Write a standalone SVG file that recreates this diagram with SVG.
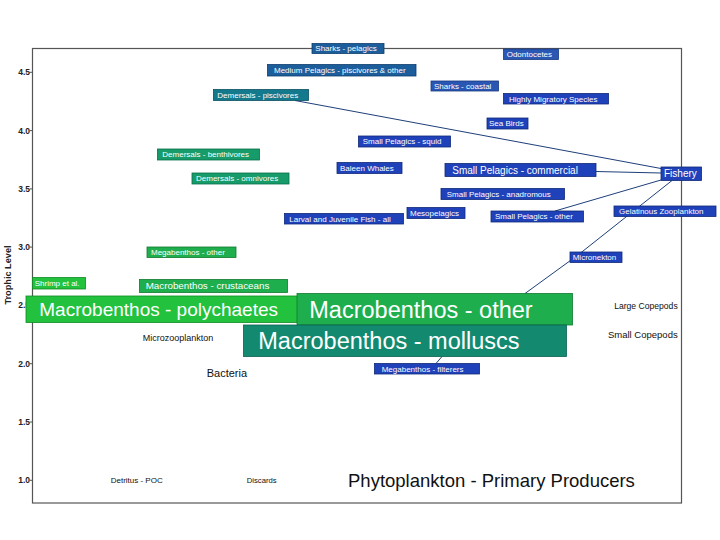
<svg xmlns="http://www.w3.org/2000/svg" width="720" height="540" viewBox="0 0 720 540">
<style>
text{font-family:"Liberation Sans",Arial,sans-serif}
.lbl{fill:#fff;font-size:8px}
.big{fill:#fff}
.plain{fill:#111}
.tick{font-size:8.5px;font-weight:bold;fill:#222;text-anchor:end}
.steel{fill:#1c5d9c;stroke:#0e3d6e;stroke-width:0.8}
.teal{fill:#137a8e;stroke:#0b5060;stroke-width:0.8}
.blue{fill:#1f41b9;stroke:#0f2878;stroke-width:0.8}
.blue2{fill:#2a56b4;stroke:#173a80;stroke-width:0.8}
.gteal{fill:#169c6a;stroke:#0c6e48;stroke-width:0.8}
.green{fill:#1eae4e;stroke:#0f7a30;stroke-width:0.8}
.bgreen{fill:#22c23e;stroke:#108a22;stroke-width:0.8}
.mteal{fill:#138a70;stroke:#0a6050;stroke-width:0.8}
.conn{stroke:#1e3f7a;stroke-width:1;fill:none}
</style>
<rect width="720" height="540" fill="#fff"/>
<g id="axes">
<rect x="32.5" y="48.5" width="649" height="454.5" fill="none" stroke="#555" stroke-width="1.2"/>
<g stroke="#555" stroke-width="1">
<line x1="30" y1="72.3" x2="32.5" y2="72.3"/>
<line x1="30" y1="130.6" x2="32.5" y2="130.6"/>
<line x1="30" y1="188.9" x2="32.5" y2="188.9"/>
<line x1="30" y1="247.1" x2="32.5" y2="247.1"/>
<line x1="30" y1="305.4" x2="32.5" y2="305.4"/>
<line x1="30" y1="363.7" x2="32.5" y2="363.7"/>
<line x1="30" y1="422" x2="32.5" y2="422"/>
<line x1="30" y1="480.3" x2="32.5" y2="480.3"/>
</g>
<text class="tick" x="30" y="75.3">4.5</text>
<text class="tick" x="30" y="133.6">4.0</text>
<text class="tick" x="30" y="191.9">3.5</text>
<text class="tick" x="30" y="250.1">3.0</text>
<text class="tick" x="30" y="308.4">2.5</text>
<text class="tick" x="30" y="366.7">2.0</text>
<text class="tick" x="30" y="425">1.5</text>
<text class="tick" x="30" y="483.3">1.0</text>
<text x="0" y="0" transform="translate(10.5,275) rotate(-90)" text-anchor="middle" font-size="9.2" font-weight="bold" fill="#222">Trophic Level</text>
</g>
<g id="connectors">
<line class="conn" x1="295" y1="100.5" x2="661" y2="168.5"/>
<line class="conn" x1="596" y1="171.5" x2="661" y2="173"/>
<line class="conn" x1="555" y1="211" x2="661" y2="180"/>
<polyline class="conn" points="672,180.5 578,255 525,293.5"/>
<line class="conn" x1="442" y1="356.5" x2="436" y2="363.5"/>
</g>
<g id="sharks-pelagics"><rect class="steel" x="312" y="43.5" width="72" height="10"/><text class="lbl" x="315.3" y="51.3">Sharks - pelagics</text></g>
<g id="odontocetes"><rect class="blue2" x="503.5" y="49" width="55" height="10.5"/><text class="lbl" x="506.7" y="57">Odontocetes</text></g>
<g id="medium-pelagics"><rect class="steel" x="267.5" y="64.5" width="148.5" height="11.5"/><text class="lbl" x="274" y="73">Medium Pelagics - piscivores &amp; other</text></g>
<g id="sharks-coastal"><rect class="blue2" x="431" y="81" width="67.5" height="10"/><text class="lbl" x="434" y="88.8">Sharks - coastal</text></g>
<g id="demersals-piscivores"><rect class="teal" x="213.5" y="89.5" width="95" height="11"/><text class="lbl" x="217.3" y="97.8">Demersals - piscivores</text></g>
<g id="highly-migratory-species"><rect class="blue" x="503.5" y="93.5" width="105" height="10.5"/><text class="lbl" x="509" y="101.5">Highly Migratory Species</text></g>
<g id="sea-birds"><rect class="blue" x="487" y="118" width="41" height="11"/><text class="lbl" x="489" y="126.3">Sea Birds</text></g>
<g id="small-pelagics-squid"><rect class="blue" x="358.5" y="136" width="92" height="11"/><text class="lbl" x="362.7" y="144.3">Small Pelagics - squid</text></g>
<g id="demersals-benthivores"><rect class="gteal" x="157.5" y="149" width="102" height="11"/><text class="lbl" x="162.3" y="157.3">Demersals - benthivores</text></g>
<g id="baleen-whales"><rect class="blue" x="337" y="162.5" width="65" height="11"/><text class="lbl" x="340" y="170.8">Baleen Whales</text></g>
<g id="small-pelagics-commercial"><rect class="blue" x="445" y="163.5" width="151" height="13"/><text class="big" font-size="10" x="452.3" y="173.5">Small Pelagics - commercial</text></g>
<g id="fishery"><rect class="blue" x="661" y="167" width="40.5" height="13.5"/><text class="big" font-size="10" x="664" y="177.3">Fishery</text></g>
<g id="demersals-omnivores"><rect class="gteal" x="192" y="173" width="97" height="11"/><text class="lbl" x="196" y="181.3">Demersals - omnivores</text></g>
<g id="small-pelagics-anadromous"><rect class="blue" x="441" y="188.5" width="123.5" height="11"/><text class="lbl" x="446.7" y="196.8">Small Pelagics - anadromous</text></g>
<g id="larval-juvenile-fish"><rect class="blue" x="284.5" y="213.5" width="119" height="10.5"/><text class="lbl" x="289.3" y="221.5">Larval and Juvenile Fish - all</text></g>
<g id="mesopelagics"><rect class="blue" x="407" y="207.5" width="58" height="11"/><text class="lbl" x="410" y="215.8">Mesopelagics</text></g>
<g id="small-pelagics-other"><rect class="blue" x="491" y="211" width="92.5" height="11"/><text class="lbl" x="495" y="219.3">Small Pelagics - other</text></g>
<g id="gelatinous-zooplankton"><rect class="blue" x="614" y="206" width="102" height="10.5"/><text class="lbl" x="619" y="214">Gelatinous Zooplankton</text></g>
<g id="megabenthos-other"><rect class="green" x="147" y="247" width="89" height="10.5"/><text class="lbl" x="151" y="255">Megabenthos - other</text></g>
<g id="micronekton"><rect class="blue" x="570" y="252" width="52" height="10.5"/><text class="lbl" x="572.7" y="260">Micronekton</text></g>
<g id="shrimp"><rect class="bgreen" x="32.5" y="277.5" width="53" height="11.5"/><text class="lbl" x="34.7" y="286">Shrimp et al.</text></g>
<g id="macrobenthos-crustaceans"><rect class="green" x="139.5" y="279.5" width="148" height="13"/><text class="big" font-size="9.8" x="145.7" y="289.4">Macrobenthos - crustaceans</text></g>
<g id="macrobenthos-polychaetes"><rect class="bgreen" x="26" y="296" width="271.5" height="26.5"/><text class="big" font-size="19" x="39.3" y="316">Macrobenthos - polychaetes</text></g>
<g id="macrobenthos-other"><rect class="green" x="297" y="293.5" width="275.5" height="31.5"/><text class="big" font-size="23.5" x="309.3" y="317.5">Macrobenthos - other</text></g>
<g id="macrobenthos-molluscs"><rect class="mteal" x="243.5" y="325" width="323" height="31.5"/><text class="big" font-size="23.5" x="258.3" y="349">Macrobenthos - molluscs</text></g>
<g id="megabenthos-filterers"><rect class="blue" x="374.5" y="363.5" width="105" height="10.5"/><text class="lbl" x="381.7" y="371.5">Megabenthos - filterers</text></g>
<g id="large-copepods"><text class="plain" font-size="8.6" x="677.7" y="309" text-anchor="end">Large Copepods</text></g>
<g id="small-copepods"><text class="plain" font-size="9.5" x="677.7" y="337.6" text-anchor="end">Small Copepods</text></g>
<g id="microzooplankton"><text class="plain" font-size="9" x="142.7" y="340.5">Microzooplankton</text></g>
<g id="bacteria"><text class="plain" font-size="11" x="206.7" y="376.5">Bacteria</text></g>
<g id="detritus-poc"><text class="plain" font-size="8" x="110.7" y="482.8">Detritus - POC</text></g>
<g id="discards"><text class="plain" font-size="7.7" x="246.7" y="482.8">Discards</text></g>
<g id="phytoplankton"><text class="plain" font-size="18.5" x="348" y="486.5">Phytoplankton - Primary Producers</text></g>
</svg>
